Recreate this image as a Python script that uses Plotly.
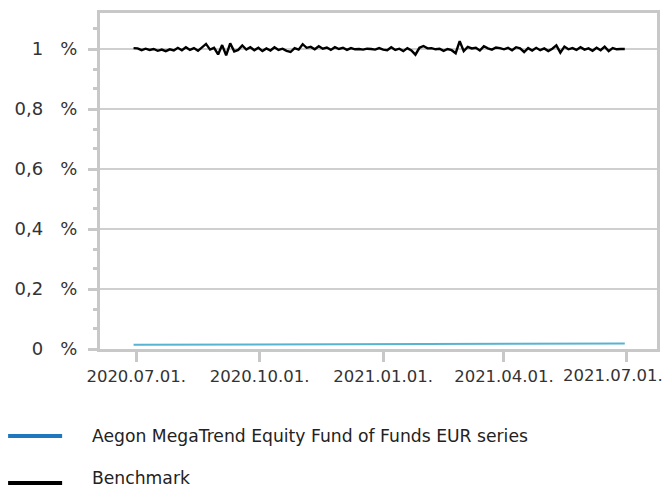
import pandas as pd
import plotly.graph_objects as go

# ---- data ----
bench_start = "2020-06-29"
bench_values = [
    1.003, 1.002, 0.996, 1.001, 0.997, 1.000, 0.994, 0.998, 0.993, 0.999,
    0.995, 1.004, 0.996, 1.006, 0.997, 1.003, 0.994, 1.005, 1.017, 0.998,
    1.004, 0.982, 1.013, 0.979, 1.019, 0.992, 0.997, 1.012, 0.998, 1.006,
    0.996, 1.004, 0.993, 1.002, 0.995, 1.006, 0.997, 1.001, 0.994, 0.990,
    1.003, 0.998, 1.016, 1.004, 1.007, 0.999, 1.009, 1.001, 1.005, 0.997,
    1.006, 1.000, 1.004, 0.997, 1.003, 0.999, 1.000, 0.998, 1.001, 1.000,
    0.998, 1.003, 0.998, 0.996, 1.006, 0.997, 1.001, 0.993, 1.003, 0.995,
    0.981, 1.004, 1.010, 1.002, 1.003, 0.999, 1.001, 0.994, 1.000, 0.996,
    0.986, 1.026, 0.993, 1.007, 1.002, 1.004, 0.995, 1.009, 1.002, 0.998,
    1.005, 1.003, 0.999, 1.004, 0.996, 1.006, 1.002, 0.990, 1.003, 0.995,
    1.004, 0.996, 1.002, 0.993, 1.001, 1.012, 0.988, 1.008, 0.999, 1.003,
    0.997, 1.006, 0.998, 1.002, 0.994, 1.004, 0.996, 1.008, 0.993, 1.003,
    0.999, 1.000, 1.000,
]
bench_dates = pd.date_range(bench_start, periods=len(bench_values), freq="3D")

fund_dates = ["2020-06-29", "2020-08-01", "2020-09-01", "2020-10-01", "2020-11-01",
              "2020-12-01", "2021-01-01", "2021-02-01", "2021-03-01", "2021-04-01",
              "2021-05-01", "2021-06-01", "2021-06-30"]
fund_values = [0.0140, 0.0142, 0.0145, 0.0148, 0.0152, 0.0156, 0.0160,
               0.0165, 0.0170, 0.0174, 0.0178, 0.0182, 0.0185]

x_tick_vals = ["2020-07-01", "2020-10-01", "2021-01-01", "2021-04-01", "2021-07-01"]
x_tick_text = ["2020.07.01.", "2020.10.01.", "2021.01.01.", "2021.04.01.", "2021.07.01."]
y_tick_vals = [0, 0.2, 0.4, 0.6, 0.8, 1.0]
y_tick_text = ["0\u00a0\u00a0\u00a0%", "0,2\u00a0\u00a0\u00a0%", "0,4\u00a0\u00a0\u00a0%",
               "0,6\u00a0\u00a0\u00a0%", "0,8\u00a0\u00a0\u00a0%", "1\u00a0\u00a0\u00a0%"]

legend_names = ["Aegon MegaTrend Equity Fund of Funds EUR series", "Benchmark"]
legend_colors = ["#1f78be", "#000000"]

GRID = "#cfcfcf"
AXIS = "#c8c8c8"
XFONT = dict(size=16.5, color="#333333", family="DejaVu Sans")

fig = go.Figure()
fig.add_trace(go.Scatter(x=fund_dates, y=fund_values, mode="lines",
                         line=dict(color="#5ab2d2", width=2), showlegend=False))
fig.add_trace(go.Scatter(x=bench_dates, y=bench_values, mode="lines",
                         line=dict(color="#000000", width=2.4), showlegend=False))

fig.update_layout(
    width=664, height=489,
    margin=dict(l=100, r=7, t=13, b=140, autoexpand=False),
    paper_bgcolor="white", plot_bgcolor="white",
    showlegend=False,
    font=dict(family="DejaVu Sans", color="#333333"),
)
# last label is drawn shifted left so it stays inside the picture (as in the reference)
axis_text = x_tick_text[:-1] + [""]
fig.update_xaxes(
    range=["2020-06-04", "2021-07-24"],
    tickvals=x_tick_vals, ticktext=axis_text,
    tickfont=XFONT,
    showgrid=False, zeroline=False, automargin=False,
    showline=True, linecolor=AXIS, linewidth=3, mirror=True,
    ticks="outside", ticklen=10, tickwidth=3, tickcolor=AXIS,
)
fig.add_annotation(x=x_tick_vals[-1], xref="x", y=0, yref="paper",
                   yshift=-15, xshift=-13, yanchor="top", xanchor="center",
                   showarrow=False, text=x_tick_text[-1], font=XFONT)
fig.update_yaxes(
    range=[0, 1.12],
    tickvals=y_tick_vals, ticktext=y_tick_text,
    tickfont=dict(size=18, color="#333333", family="DejaVu Sans"),
    showgrid=True, gridcolor=GRID, gridwidth=2, zeroline=False, automargin=False,
    ticklabelstandoff=7,
    showline=True, linecolor=AXIS, linewidth=3, mirror=True,
    ticks="outside", ticklen=9, tickwidth=3, tickcolor=AXIS,
    minor=dict(tickvals=[0.0667, 0.1333, 0.2667, 0.3333, 0.4667, 0.5333,
                         0.6667, 0.7333, 0.8667, 0.9333, 1.0667],
               ticks="outside", ticklen=4, tickwidth=3, tickcolor=AXIS,
               showgrid=False),
)

# manual legend
line_y = [-0.259, -0.399]
text_y = [-0.259, -0.385]
for name, color, ly, ty in zip(legend_names, legend_colors, line_y, text_y):
    fig.add_shape(type="line", xref="paper", yref="paper",
                  x0=-0.165, x1=-0.068, y0=ly, y1=ly,
                  line=dict(color=color, width=4))
    fig.add_annotation(xref="paper", yref="paper", x=-0.016, y=ty,
                       xanchor="left", yanchor="middle", showarrow=False, borderpad=0,
                       text=name, font=dict(family="DejaVu Sans", size=17.2, color="#222222"))

fig.write_html("out.html", post_script="document.body.style.margin='0';",
               config={"displayModeBar": False})
